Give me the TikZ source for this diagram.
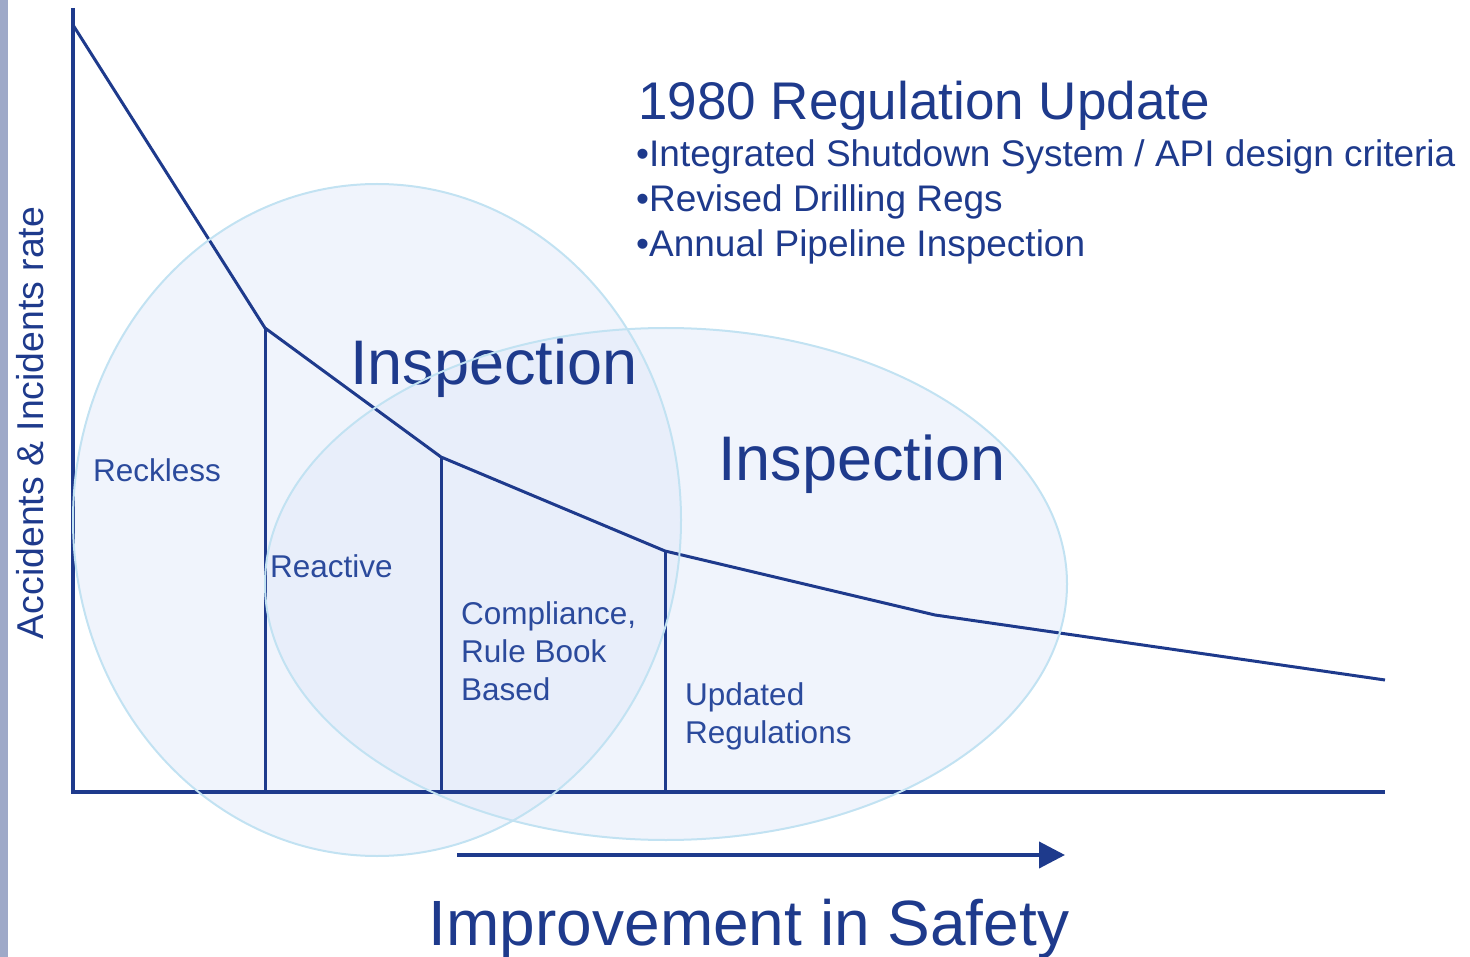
\documentclass[tikz,border=0pt]{standalone}
\usepackage{fontspec}
\setmainfont{Liberation Sans}
\usetikzlibrary{arrows.meta}
\definecolor{dblue}{HTML}{1E3A8C}
\definecolor{tblue}{HTML}{1E3A8C}
\definecolor{lblue}{HTML}{2B4A9C}
\definecolor{efill}{RGB}{225,233,249}
\definecolor{eedge}{HTML}{C2E2F2}
\definecolor{strip}{HTML}{9EA9C8}
\tikzset{
  axisline/.style={draw=dblue, line width=3.2pt},
  curveline/.style={draw=dblue, line width=3pt, line join=round},
  divider/.style={draw=dblue, line width=3pt},
  ellfill/.style={fill=efill, fill opacity=0.5, draw=none},
  elledge/.style={draw=eedge, line width=2pt},
  zone/.style={text=lblue, font=\fontsize{31.5}{38}\selectfont, anchor=base west, inner sep=0pt, align=left},
  big/.style={text=tblue, font=\fontsize{63}{63}\selectfont, anchor=base west, inner sep=0pt},
  head/.style={text=tblue, anchor=base west, inner sep=0pt},
}
\begin{document}
\begin{tikzpicture}[x=1pt,y=-1pt]
\useasboundingbox (0,0) rectangle (1470,957);
\fill[strip] (0,0) rectangle (8,957);
% ellipse fills
\path[ellfill] (377,520) ellipse [x radius=304, y radius=336];
\path[ellfill] (666,584) ellipse [x radius=401, y radius=256];
% axes
\coordinate (ytop) at (73,8);
\coordinate (origin) at (73,792);
\coordinate (xend) at (1385,792);
\draw[axisline] (ytop) -- (origin) -- (xend);
% curve
\coordinate (p0) at (73,25);
\coordinate (p1) at (265,328);
\coordinate (p2) at (441,457);
\coordinate (p3) at (665,551);
\coordinate (p4) at (935,615);
\coordinate (p5) at (1385,680);
\draw[curveline] (p0) -- (p1) -- (p2) -- (p3) -- (p4) -- (p5);
\coordinate (b1) at (265,792);
\coordinate (b2) at (441,792);
\coordinate (b3) at (665,792);
\draw[divider] (p1) -- (b1);
\draw[divider] (p2) -- (b2);
\draw[divider] (p3) -- (b3);
% zone labels
\node[zone] (reck) at (93,481) {Reckless};
\node[zone] (react) at (270,577) {Reactive};
\node[zone] (comp) at (461,700) {Compliance,\\Rule Book\\Based};
\node[zone] (upd) at (685,743) {Updated\\Regulations};
% big labels
\node[big] (insp1) at (350,385) {Inspection};
\node[big] (insp2) at (718,480) {Inspection};
% heading
\node[head, font=\fontsize{53}{53}\selectfont] (h0) at (638,120) {1980 Regulation Update};
\node[head, font=\fontsize{37}{37}\selectfont] (h1) at (636,167) {•Integrated Shutdown System / API design criteria};
\node[head, font=\fontsize{37}{37}\selectfont] (h2) at (636,212) {•Revised Drilling Regs};
\node[head, font=\fontsize{37}{37}\selectfont] (h3) at (636,257) {•Annual Pipeline Inspection};
% y label
\node[text=tblue, font=\fontsize{37.4}{37.4}\selectfont, rotate=90, inner sep=0pt] (ylab) at (30,423) {Accidents \& Incidents rate};
% ellipse edges
\draw[elledge] (377,520) ellipse [x radius=304, y radius=336];
\draw[elledge] (666,584) ellipse [x radius=401, y radius=256];
% arrow
\coordinate (a1) at (457,855);
\coordinate (a2) at (1065,855);
\draw[dblue, line width=4pt, -{Triangle[length=26pt,width=26pt]}] (a1) -- (a2);
\node[text=tblue, font=\fontsize{64}{64}\selectfont, inner sep=0pt, anchor=base] (imp) at (749,945) {Improvement in Safety};
\end{tikzpicture}
\end{document}
